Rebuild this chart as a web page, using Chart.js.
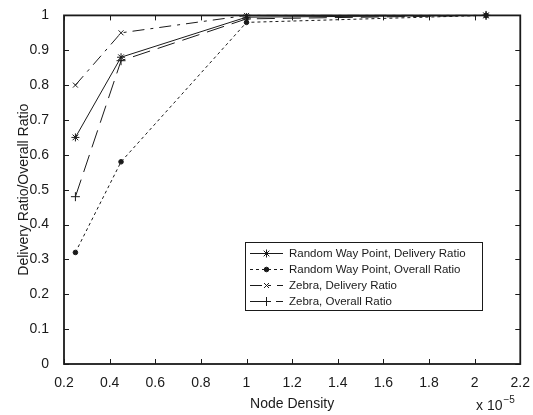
<!DOCTYPE html>
<html><head><meta charset="utf-8">
<script src="https://cdn.jsdelivr.net/npm/chart.js@4.4.0/dist/chart.umd.min.js"></script>
<style>html,body{margin:0;padding:0;background:#fff;} #wrap{width:533px;height:415px;position:relative;}</style>
</head><body><div id="wrap"><canvas id="c" width="533" height="415"></canvas></div>
<script>
const nodeDensity = [0.25, 0.45, 1.0, 2.05];
const rwpDelivery = [0.65, 0.88, 0.995, 1.0];
const rwpOverall = [0.32, 0.58, 0.98, 1.0];
const zebraDelivery = [0.80, 0.95, 1.0, 1.0];
const zebraOverall = [0.48, 0.87, 0.99, 1.0];
const seriesLabels = ['Random Way Point, Delivery Ratio', 'Random Way Point, Overall Ratio', 'Zebra, Delivery Ratio', 'Zebra, Overall Ratio'];
const xTicks = [0.2, 0.4, 0.6, 0.8, 1.0, 1.2, 1.4, 1.6, 1.8, 2.0, 2.2];
const yTicks = [0, 0.1, 0.2, 0.3, 0.4, 0.5, 0.6, 0.7, 0.8, 0.9, 1.0];
const xTitle = 'Node Density';
const yTitle = 'Delivery Ratio/Overall Ratio';

const FONT = "'Liberation Sans', Arial, Helvetica, sans-serif";
const INK = '#1a1a1a';
const pts = arr => nodeDensity.map((x, i) => ({x: x, y: arr[i]}));
const fmt = v => String(parseFloat(Number(v).toFixed(1)));

const styles = [
  {data: rwpDelivery, dash: [], pointStyle: 'star', r: 4},
  {data: rwpOverall, dash: [3, 3], pointStyle: 'circle', r: 2.3},
  {data: zebraDelivery, dash: [12, 6, 3, 6], pointStyle: 'crossRot', r: 3.5},
  {data: zebraOverall, dash: [18, 8], pointStyle: 'cross', r: 4.5}
];

const datasets = styles.map((s, i) => ({
  label: seriesLabels[i],
  data: pts(s.data),
  borderColor: INK,
  backgroundColor: INK,
  borderWidth: 1,
  borderDash: s.dash,
  pointStyle: s.pointStyle,
  pointRadius: s.r,
  pointBorderWidth: 1,
  pointBorderColor: INK,
  pointBackgroundColor: INK,
  tension: 0,
  fill: false,
  clip: false
}));

const framePlugin = {
  id: 'frame',
  beforeDatasetsDraw(chart) {
    const ctx = chart.ctx, a = chart.chartArea;
    const xs = chart.scales.x, ys = chart.scales.y;
    ctx.save();
    ctx.strokeStyle = INK;
    ctx.lineWidth = 1;
    const T = 5;
    ctx.beginPath();
    xTicks.forEach(v => {
      const px = Math.round(xs.getPixelForValue(v)) + 0.5;
      ctx.moveTo(px, a.bottom); ctx.lineTo(px, a.bottom - T);
      ctx.moveTo(px, a.top); ctx.lineTo(px, a.top + T);
    });
    yTicks.forEach(v => {
      const py = Math.round(ys.getPixelForValue(v)) + 0.5;
      ctx.moveTo(a.left, py); ctx.lineTo(a.left + T, py);
      ctx.moveTo(a.right, py); ctx.lineTo(a.right - T, py);
    });
    ctx.stroke();
    ctx.lineWidth = 1.8;
    ctx.strokeRect(a.left, a.top, a.right - a.left, a.bottom - a.top);
    ctx.restore();
  },
  afterDraw(chart) {
    const ctx = chart.ctx, a = chart.chartArea;
    ctx.save();
    // legend box
    const bx = 245, by = 242, bw = 237, bh = 68;
    ctx.fillStyle = '#fff';
    ctx.fillRect(bx, by, bw, bh);
    ctx.strokeStyle = INK;
    ctx.lineWidth = 1;
    ctx.strokeRect(bx + 0.5, by + 0.5, bw, bh);
    chart.data.datasets.forEach((ds, i) => {
      const y = by + 11 + i * 16 + 0.5;
      ctx.save();
      ctx.strokeStyle = INK;
      ctx.lineWidth = 1;
      ctx.setLineDash(ds.borderDash);
      ctx.beginPath();
      ctx.moveTo(250, y); ctx.lineTo(283, y);
      ctx.stroke();
      ctx.restore();
      ctx.save();
      ctx.fillStyle = INK; ctx.strokeStyle = INK; ctx.lineWidth = 1;
      if (Chart.helpers && Chart.helpers.drawPoint) {
        Chart.helpers.drawPoint(ctx, {pointStyle: ds.pointStyle, radius: ds.pointRadius, borderWidth: 1, rotation: 0}, 266.5, y);
      }
      ctx.restore();
      ctx.fillStyle = INK;
      ctx.font = '11.5px ' + FONT;
      ctx.textBaseline = 'middle';
      ctx.textAlign = 'left';
      ctx.fillText(ds.label, 289, y);
    });
    // exponent label
    ctx.fillStyle = INK;
    ctx.textBaseline = 'alphabetic';
    ctx.textAlign = 'left';
    ctx.font = '14px ' + FONT;
    const base = 410;
    ctx.fillText('x 10', 476, base);
    const w = ctx.measureText('x 10').width;
    ctx.font = '10px ' + FONT;
    ctx.fillText('\u22125', 476 + w + 1, base - 7);
    ctx.restore();
  }
};

new Chart(document.getElementById('c'), {
  type: 'line',
  data: {datasets: datasets},
  options: {
    responsive: false,
    animation: false,
    devicePixelRatio: 1,
    layout: {padding: {top: 14, right: 11, left: 0, bottom: 0}},
    plugins: {legend: {display: false}, tooltip: {enabled: false}},
    scales: {
      x: {
        type: 'linear', min: 0.2, max: 2.2,
        afterBuildTicks: s => { s.ticks = xTicks.map(v => ({value: v})); },
        afterFit: s => { s.height = 51; },
        grid: {display: false},
        border: {display: false},
        ticks: {callback: v => fmt(v), font: {size: 14, family: FONT}, color: INK, padding: 3, maxRotation: 0, autoSkip: false},
        title: {display: true, text: xTitle, font: {size: 14, family: FONT}, color: INK, padding: {top: 0, bottom: 2}}
      },
      y: {
        type: 'linear', min: 0, max: 1,
        afterBuildTicks: s => { s.ticks = yTicks.map(v => ({value: v})); },
        afterFit: s => { s.width = 64; },
        grid: {display: false},
        border: {display: false},
        ticks: {callback: v => fmt(v), font: {size: 14, family: FONT}, color: INK, padding: 7, autoSkip: false},
        title: {display: true, text: yTitle, font: {size: 14, family: FONT}, color: INK, padding: {top: 16, bottom: 0}}
      }
    }
  },
  plugins: [framePlugin]
});
</script>
</body></html>
